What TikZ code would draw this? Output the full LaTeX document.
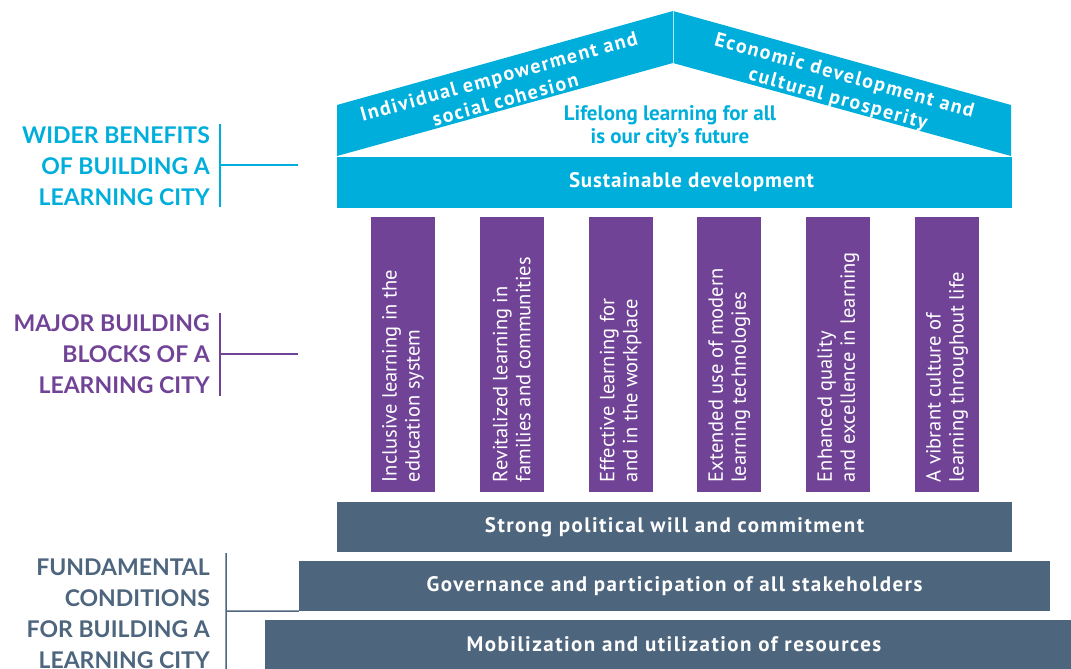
\documentclass[tikz,border=0pt]{standalone}
\usepackage{fontspec}
\setmainfont{PT Sans}
\newfontfamily\spacedfont{PT Sans}[LetterSpace=4]
\newfontfamily\widefont{PT Sans}[LetterSpace=7]
\newfontfamily\roofspaced{PT Sans}[LetterSpace=8]
\newfontfamily\capsfont{Lato}
\usetikzlibrary{positioning}
\definecolor{roofblue}{RGB}{0,174,219}
\definecolor{pillarpurple}{RGB}{113,67,151}
\definecolor{baseslate}{RGB}{77,101,125}
\tikzstyle{bar} = [rectangle, fill=baseslate, text=white, inner sep=0pt,
    font=\widefont\bfseries\fontsize{21}{24}\selectfont, minimum height=50pt]
\tikzstyle{pillar} = [rectangle, fill=pillarpurple, inner sep=0pt,
    minimum width=64pt, minimum height=275pt]
\tikzstyle{pillartext} = [rotate=90, anchor=west, align=left, text=white,
    inner sep=0pt, font=\fontsize{20.5}{23}\selectfont]
\tikzstyle{rooftext} = [text=white, align=center, inner sep=0pt,
    font=\roofspaced\bfseries\fontsize{20}{24}\selectfont]
\tikzstyle{sidelabel} = [anchor=east, align=right, inner sep=0pt,
    font=\capsfont\bfseries\fontsize{23}{31}\selectfont]
\tikzstyle{bracket} = [line width=1.5pt]

\begin{document}
\begin{tikzpicture}[x=1pt,y=-1pt]
  \useasboundingbox (0,0) rectangle (1071,669);

  % roof
  \fill[roofblue] (337,105) -- (673,11) -- (673,63) -- (337,156) -- cycle;
  \fill[roofblue] (673,11) -- (1011,105) -- (1011,156) -- (673,63) -- cycle;
  \draw[white!70!roofblue, line width=0.6pt] (673,11) -- (673,63);
  \node[rooftext, rotate=15.6]  (indiv) at (502,88) {Individual empowerment and\\social cohesion};
  \node[rooftext, rotate=-15.6] (econ)  at (841,88) {Economic development and\\cultural prosperity};
  \node[text=roofblue, align=center, inner sep=0pt,
        font=\bfseries\fontsize{21}{23}\selectfont] (motto) at (670,127)
        {Lifelong learning for all\\is our city’s future};
  \node[bar, fill=roofblue, minimum width=675pt, minimum height=51pt] (sust) at (674.5,182.5) {};
  \node[text=white, inner sep=0pt, font=\spacedfont\bfseries\fontsize{21}{24}\selectfont]
        (susttext) at ([xshift=17pt]sust.center) {Sustainable development};

  % pillars
  \node[pillar] (p1) at (403,354.5) {};
  \node[pillar] (p2) [right=44.4pt of p1] {};
  \node[pillar] (p3) [right=44.4pt of p2] {};
  \node[pillar] (p4) [right=44.4pt of p3] {};
  \node[pillar] (p5) [right=44.4pt of p4] {};
  \node[pillar] (p6) [right=44.4pt of p5] {};
  \node[pillartext] (t1) at ([yshift=10pt]p1.south) {Inclusive learning in the\\education system};
  \node[pillartext] (t2) at ([yshift=10pt]p2.south) {Revitalized learning in\\families and communities};
  \node[pillartext] (t3) at ([yshift=10pt]p3.south) {Effective learning for\\and in the workplace};
  \node[pillartext] (t4) at ([yshift=10pt]p4.south) {Extended use of modern\\learning technologies};
  \node[pillartext] (t5) at ([yshift=10pt]p5.south) {Enhanced quality\\and excellence in learning};
  \node[pillartext] (t6) at ([yshift=10pt]p6.south) {A vibrant culture of\\learning throughout life};

  % foundation
  \node[bar, minimum width=675pt] (will) at (674.5,527) {Strong political will and commitment};
  \node[bar, minimum width=751pt] (gov)  at (674.5,586) {Governance and participation of all stakeholders};
  \node[bar, minimum width=818pt, minimum height=49pt] (mob) at (674,644.5) {Mobilization and utilization of resources};

  % side labels
  \node[sidelabel, text=roofblue] (wider) at (210,166) {WIDER BENEFITS\\OF BUILDING A\\LEARNING CITY};
  \node[sidelabel, text=pillarpurple] (major) at (210,354) {MAJOR BUILDING\\BLOCKS OF A\\LEARNING CITY};
  \node[sidelabel, text=baseslate] (fund) at (210,614) {FUNDAMENTAL\\CONDITIONS\\FOR BUILDING A\\LEARNING CITY};

  \coordinate (wtop) at (220,124);
  \coordinate (wbot) at (220,207);
  \coordinate (wmid) at (220,165);
  \coordinate (wend) at (298,165);
  \coordinate (mtop) at (220,313);
  \coordinate (mbot) at (220,396);
  \coordinate (mmid) at (220,354);
  \coordinate (mend) at (298,354);
  \coordinate (ftop) at (226,553);
  \coordinate (fbot) at (226,669);
  \coordinate (fmid) at (226,611);
  \draw[bracket, roofblue] (wtop) -- (wbot) (wmid) -- (wend);
  \draw[bracket, pillarpurple] (mtop) -- (mbot) (mmid) -- (mend);
  \draw[bracket, baseslate] (ftop) -- (fbot) (fmid) -- (gov.south west);
\end{tikzpicture}
\end{document}
